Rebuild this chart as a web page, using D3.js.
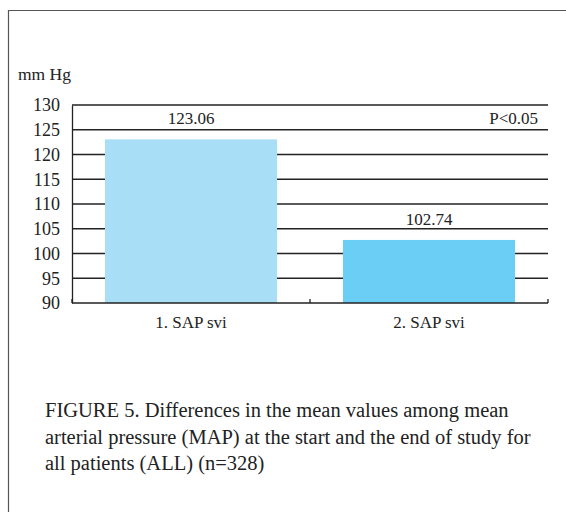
<!DOCTYPE html>
<html>
<head>
<meta charset="utf-8">
<script src="https://cdn.jsdelivr.net/npm/d3@7"></script>
<style>
  body { margin: 0; background: #fff; }
  svg text { font-family: "Liberation Serif", "DejaVu Serif", serif; fill: #222; }
</style>
</head>
<body>
<svg width="566" height="512"></svg>
<script>
var categories = ["1. SAP svi", "2. SAP svi"];
var values = [123.06, 102.74];
var valueLabels = ["123.06", "102.74"];
var barColors = ["#a9def7", "#6bcff5"];
var yTicks = [90, 95, 100, 105, 110, 115, 120, 125, 130];
var captionLines = [
  "FIGURE 5. Differences in the mean values among mean",
  "arterial pressure (MAP) at the start and the end of study for",
  "all patients (ALL) (n=328)"
];

var svg = d3.select("svg"),
    width = +svg.attr("width"),
    height = +svg.attr("height");

// outer frame (left + top only)
svg.append("path")
    .attr("d", "M8.5," + height + "V10.5H" + width)
    .attr("fill", "none")
    .attr("stroke", "#555")
    .attr("stroke-width", 1.2);

var plotL = 72, plotR = 548, plotT = 105, plotB = 303;

var x = d3.scaleBand()
    .domain(categories)
    .range([plotL, plotR])
    .paddingInner(0.277)
    .paddingOuter(0.1385);

var y = d3.scaleLinear()
    .domain([90, 130])
    .range([plotB, plotT]);

// grid lines
svg.append("g")
    .selectAll("line")
    .data(yTicks.slice(1))
    .join("line")
    .attr("x1", plotL)
    .attr("x2", plotR)
    .attr("y1", d => y(d))
    .attr("y2", d => y(d))
    .attr("stroke", "#222")
    .attr("stroke-width", 1.3);

// bars
svg.append("g")
    .selectAll("rect")
    .data(values)
    .join("rect")
    .attr("x", (d, i) => x(categories[i]))
    .attr("width", x.bandwidth())
    .attr("y", d => y(d))
    .attr("height", d => plotB - y(d))
    .attr("fill", (d, i) => barColors[i]);

// y axis
var yAxis = d3.axisLeft(y)
    .tickValues(yTicks)
    .tickSize(0)
    .tickPadding(12);

var gY = svg.append("g")
    .attr("transform", "translate(" + plotL + ",0)")
    .call(yAxis);
gY.select(".domain").attr("stroke", "#222").attr("stroke-width", 1.3);
gY.selectAll("text")
    .attr("font-family", "Liberation Serif, serif")
    .attr("font-size", 18)
    .attr("fill", "#222");

// x axis: baseline with ticks at band edges
svg.append("line")
    .attr("x1", plotL).attr("x2", plotR)
    .attr("y1", plotB).attr("y2", plotB)
    .attr("stroke", "#222").attr("stroke-width", 1.3);

var step = (plotR - plotL) / categories.length;
svg.append("g")
    .selectAll("line")
    .data(d3.range(categories.length + 1))
    .join("line")
    .attr("x1", d => plotL + d * step)
    .attr("x2", d => plotL + d * step)
    .attr("y1", plotB)
    .attr("y2", plotB - 4)
    .attr("stroke", "#222")
    .attr("stroke-width", 1.3);

svg.append("g")
    .selectAll("text")
    .data(categories)
    .join("text")
    .attr("x", d => x(d) + x.bandwidth() / 2)
    .attr("y", 328)
    .attr("text-anchor", "middle")
    .attr("font-size", 17)
    .text(d => d);

// value labels
svg.append("g")
    .selectAll("text")
    .data(values)
    .join("text")
    .attr("x", (d, i) => x(categories[i]) + x.bandwidth() / 2)
    .attr("y", d => y(d) - 15)
    .attr("text-anchor", "middle")
    .attr("font-size", 17)
    .text((d, i) => valueLabels[i]);

svg.append("text")
    .attr("x", 538)
    .attr("y", 124)
    .attr("text-anchor", "end")
    .attr("font-size", 17)
    .text("P<0.05");

svg.append("text")
    .attr("x", 18)
    .attr("y", 80)
    .attr("font-size", 17.5)
    .text("mm Hg");

// caption
svg.append("g")
    .selectAll("text")
    .data(captionLines)
    .join("text")
    .attr("x", 45)
    .attr("y", (d, i) => 417 + i * 26.7)
    .attr("font-size", 20.5)
    .attr("fill", "#333")
    .text(d => d);
</script>
</body>
</html>
